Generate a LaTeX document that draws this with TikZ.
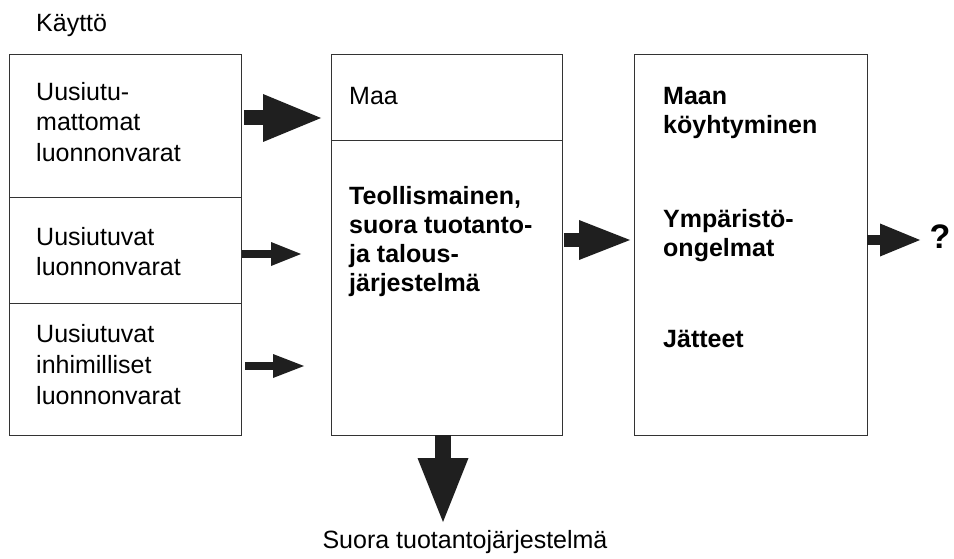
\documentclass[tikz,border=0pt]{standalone}
\usepackage{fontspec}
\setmainfont{Liberation Sans}
\usetikzlibrary{arrows.meta}

\tikzset{
  box/.style={draw=black!80, line width=1.2pt, inner sep=0pt, anchor=north west},
  txt/.style={anchor=base west, align=left, inner sep=0pt, font=\fontsize{25}{31}\selectfont},
  btxt/.style={txt, font=\fontsize{25}{29}\selectfont\bfseries},
  fatarrow/.style={draw=black!88, line width=#1}
}

\begin{document}
\begin{tikzpicture}[x=1pt, y=-1pt]
\useasboundingbox (0,0) rectangle (954,559);

% Draw boxes
\node[box, minimum width=232.5, minimum height=143] (ren1) at (8.5,54) {};
\node[box, minimum width=232.5, minimum height=106] (ren2) at (8.5,197) {};
\node[box, minimum width=232.5, minimum height=132] (ren3) at (8.5,303) {};
\node[box, minimum width=231, minimum height=86] (maa) at (331,54) {};
\node[box, minimum width=231, minimum height=295] (ind) at (331,140) {};
\node[box, minimum width=233, minimum height=381] (res) at (634,54) {};

% Texts in the boxes (placed at the baseline of the last line)
\node[txt] (t1) at (36,162) {Uusiutu-\\mattomat\\luonnonvarat};
\node[txt] (t2) at (36,276) {Uusiutuvat\\luonnonvarat};
\node[txt] (t3) at (36,404) {Uusiutuvat\\inhimilliset\\luonnonvarat};
\node[txt] (tmaa) at (349,105) {Maa};
\node[btxt] (tind) at (349,291) {Teollismainen,\\suora tuotanto-\\ja talous-\\järjestelmä};
\node[btxt] (r1) at (663,134) {Maan\\köyhtyminen};
\node[btxt] (r2) at (663,256) {Ympäristö-\\ongelmat};
\node[btxt] (r3) at (663,347) {Jätteet};

% Labels outside
\node[txt] (use) at (36,32) {Käyttö};
\node[txt, anchor=base] (out) at (465,548) {Suora tuotantojärjestelmä};
\node[font=\fontsize{34}{34}\selectfont\bfseries, inner sep=0pt] (q) at (940,237) {?};

% Arrow end points
\coordinate (a1s) at (244,118);  \coordinate (a1e) at (321,118);
\coordinate (a2s) at (242,254);  \coordinate (a2e) at (301,254);
\coordinate (a3s) at (245,366);  \coordinate (a3e) at (304,366);
\coordinate (a4s) at (564,240);  \coordinate (a4e) at (630,240);
\coordinate (a5s) at (867,240);  \coordinate (a5e) at (920,240);
\coordinate (a6s) at (443,435);  \coordinate (a6e) at (443,522);

% Draw block arrows
\draw[fatarrow=15pt, -{Triangle[length=58pt, width=48pt, line width=0pt]}] (a1s) -- (a1e);
\draw[fatarrow=8pt, -{Triangle[length=30pt, width=24pt, line width=0pt]}] (a2s) -- (a2e);
\draw[fatarrow=8pt, -{Triangle[length=31pt, width=24pt, line width=0pt]}] (a3s) -- (a3e);
\draw[fatarrow=13pt, -{Triangle[length=51pt, width=40pt, line width=0pt]}] (a4s) -- (a4e);
\draw[fatarrow=10pt, -{Triangle[length=40pt, width=33pt, line width=0pt]}] (a5s) -- (a5e);
\draw[fatarrow=16pt, -{Triangle[length=64pt, width=51pt, line width=0pt]}] (a6s) -- (a6e);

\end{tikzpicture}
\end{document}
